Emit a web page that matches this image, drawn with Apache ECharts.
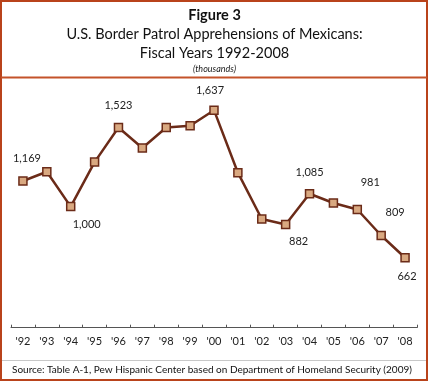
<!DOCTYPE html>
<html>
<head>
<meta charset="utf-8">
<script src="https://cdn.jsdelivr.net/npm/echarts@6/dist/echarts.min.js"></script>
<style>
html,body{margin:0;padding:0;background:#fff;}
#chart{width:429px;height:382px;}
</style>
</head>
<body>
<div id="chart"></div>
<script>
var categories = ["'92","'93","'94","'95","'96","'97","'98","'99","'00","'01","'02","'03","'04","'05","'06","'07","'08"];
var apprehensions = [1169,1230,1000,1294,1523,1387,1523,1534,1637,1224,918,882,1085,1024,981,809,662];
var labelText = ["1,169","","1,000","","1,523","","","","1,637","","","882","1,085","","981","809","662"];

var FONT = 'Lato';
// label placement per point (offsets in px), styling only
var labelPlacement = {
  0: {position:'top', offset:[4,-4]},
  2: {position:'bottom', offset:[16,0]},
  4: {position:'top', offset:[0,-4]},
  8: {position:'top', offset:[-4,-1]},
  11:{position:'bottom', offset:[13,-1]},
  12:{position:'top', offset:[0,-3]},
  14:{position:'top', offset:[13,-9]},
  15:{position:'top', offset:[14,-5]},
  16:{position:'bottom', offset:[2,0]}
};

var seriesData = apprehensions.map(function(v,i){
  var item = {value:v};
  if (labelText[i]) {
    var p = labelPlacement[i] || {position:'top', offset:[0,0]};
    item.label = {show:true, position:p.position, offset:p.offset, formatter:labelText[i],
      fontFamily:FONT, fontSize:11, color:'#222', distance:8};
  }
  return item;
});

var chart = echarts.init(document.getElementById('chart'), null, {renderer:'canvas'});
var option = {
  animation:false,
  backgroundColor:'#fff',
  title:[
    {text:'Figure 3', left:'center', top:8, padding:0, textStyle:{fontFamily:FONT, fontSize:14.5, fontWeight:'bold', color:'#111'}},
    {text:'U.S. Border Patrol Apprehensions of Mexicans:', left:'center', top:27, padding:0, textStyle:{fontFamily:FONT, fontSize:14.5, fontWeight:'normal', color:'#111'}},
    {text:'Fiscal Years 1992-2008', left:'center', top:46, padding:0, textStyle:{fontFamily:FONT, fontSize:14.5, fontWeight:'normal', color:'#111'}},
    {text:'(thousands)', left:'center', top:65, padding:0, textStyle:{fontFamily:FONT, fontSize:9, fontStyle:'italic', fontWeight:'normal', color:'#222'}},
    {text:'Source: Table A-1, Pew Hispanic Center based on Department of Homeland Security (2009)', left:12, top:365, padding:0, textStyle:{fontFamily:FONT, fontSize:10, fontWeight:'normal', color:'#111'}}
  ],
  graphic:[
    {type:'rect', shape:{x:1, y:1, width:426, height:379}, style:{fill:null, stroke:'#b9431b', lineWidth:2}, z:10},
    {type:'line', shape:{x1:1, y1:77.5, x2:427, y2:77.5}, style:{stroke:'#c4532a', lineWidth:2}, z:10},
    {type:'line', shape:{x1:2, y1:360.5, x2:426, y2:360.5}, style:{stroke:'#c8c8c8', lineWidth:1}, z:10}
  ],
  grid:{left:11, right:12, top:85.5, bottom:54.3, containLabel:false},
  xAxis:{
    type:'category', data:categories, boundaryGap:true,
    axisLine:{show:true, lineStyle:{color:'#555', width:1}},
    axisTick:{show:true, inside:true, length:3, lineStyle:{color:'#555'}},
    axisLabel:{fontFamily:FONT, fontSize:11, color:'#222', margin:8}
  },
  yAxis:{
    type:'value', min:200, max:1800, show:false, splitLine:{show:false}
  },
  series:[{
    type:'line', data:seriesData,
    symbol:'rect', symbolSize:8,
    lineStyle:{color:'#6b2b18', width:2.5},
    itemStyle:{color:'#d9a981', borderColor:'#6b2b18', borderWidth:1.5},
    label:{show:false}
  }]
};
chart.setOption(option);
</script>
</body>
</html>
